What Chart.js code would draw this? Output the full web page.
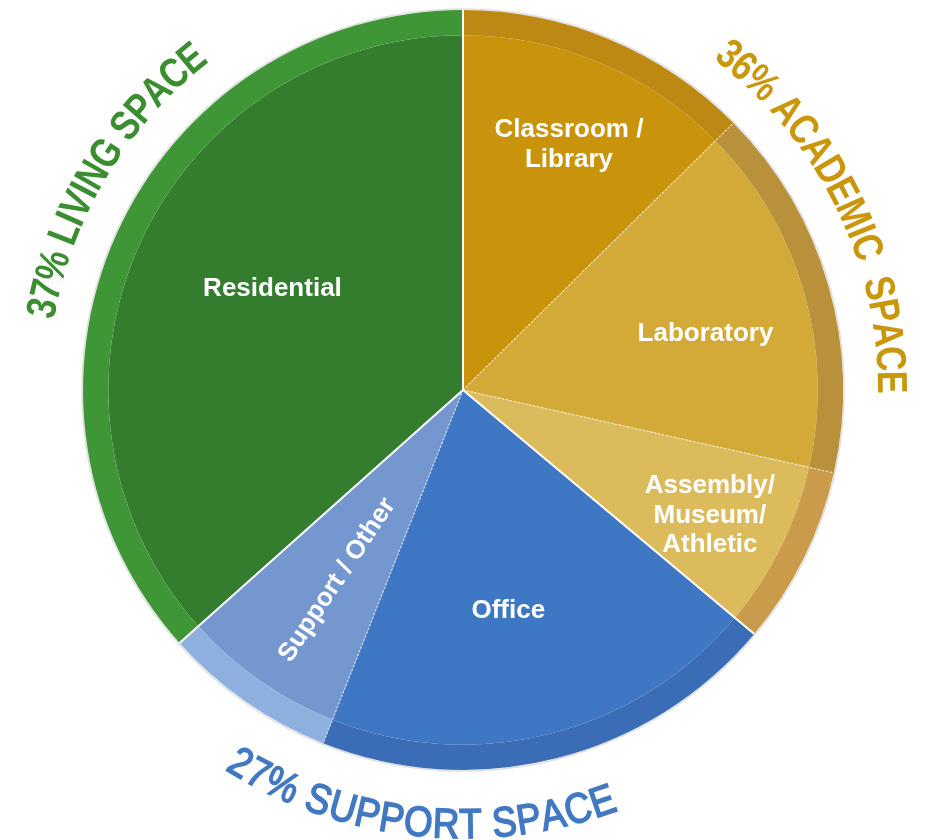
<!DOCTYPE html>
<html>
<head>
<meta charset="utf-8">
<script src="https://cdn.jsdelivr.net/npm/chart.js@4.4.0/dist/chart.umd.min.js"></script>
<style>
  html, body { margin: 0; padding: 0; background: #fff; }
  #wrap { width: 930px; height: 840px; position: relative; }
</style>
</head>
<body>
<div id="wrap"><canvas id="spaceChart"></canvas></div>
<script>
// share of floor space (%), clockwise from 12 o'clock
const categories = ['Classroom / Library', 'Laboratory', 'Assembly/ Museum/ Athletic', 'Office', 'Support / Other', 'Residential'];
const labelLines = [['Classroom /', 'Library'], ['Laboratory'], ['Assembly/', 'Museum/', 'Athletic'], ['Office'], ['Support / Other'], ['Residential']];
const shares = [12.6, 15.9, 7.6, 19.9, 7.4, 36.6];
const groupOf = ['academic', 'academic', 'academic', 'support', 'support', 'living'];

const groupTitles = ['37% LIVING SPACE', '36% ACADEMIC  SPACE', '27% SUPPORT SPACE'];

const innerColors = ['#c9930c', '#d3aa38', '#dcbb5c', '#3e77c3', '#7497cf', '#357d2e'];
const ringColors  = ['#bd8913', '#b8913a', '#c99b4b', '#3a6db6', '#8db0de', '#3f9637'];

// where the white slice names sit: angle nudge (deg) and distance as part of the radius
const nameSpots = [
  { da: 0.7, r: 0.703 },
  { da: 3.0, r: 0.655 },
  { da: 0.7, r: 0.729 },
  { da: 2.6, r: 0.592 },
  { da: -1.4, r: 0.60, rotate: true },
  { da: 3.9, r: 0.568 }
];

// curved titles round the pie: centre angle and span in degrees from 12 o'clock
const titleSpots = [
  { mid: 301, span: 42.5, bottom: false, color: '#3a8e30', weight: 'bold', stroke: 0 },
  { mid: 63.8, span: 53.4, bottom: false, color: '#c9960c', weight: 'bold', stroke: 0 },
  { mid: 185.9, span: 52.5, bottom: true, color: '#4279c2', weight: 'normal', stroke: 1.6 }
];

function curvedText(ctx, text, cx, cy, R, spot) {
  const font = spot.weight + ' 42px "Liberation Sans", Arial, sans-serif';
  ctx.font = font;
  const chars = [...text];
  const widths = chars.map(ch => ctx.measureText(ch).width);
  const natural = widths.reduce((a, b) => a + b, 0);
  const rMid = R + (spot.bottom ? 53 : 50);
  const rBase = spot.bottom ? rMid + 15 : rMid - 15;
  const span = spot.span * Math.PI / 180;
  const k = span * rMid / natural;
  const mid = (spot.mid - 90) * Math.PI / 180;
  let pos = 0;
  chars.forEach((ch, i) => {
    const w = widths[i] * k;
    const off = (pos + w / 2) / rMid - span / 2;
    pos += w;
    const a = spot.bottom ? mid - off : mid + off;
    ctx.save();
    ctx.translate(cx + rBase * Math.cos(a), cy + rBase * Math.sin(a));
    ctx.rotate(spot.bottom ? a - Math.PI / 2 : a + Math.PI / 2);
    ctx.scale(k, 1);
    ctx.font = font;
    ctx.textAlign = 'center';
    ctx.textBaseline = 'alphabetic';
    ctx.fillStyle = spot.color;
    ctx.fillText(ch, 0, 0);
    if (spot.stroke) {
      ctx.strokeStyle = spot.color;
      ctx.lineWidth = spot.stroke;
      ctx.strokeText(ch, 0, 0);
    }
    ctx.restore();
  });
}

const decorPlugin = {
  id: 'decor',
  afterDatasetsDraw(chart) {
    const ctx = chart.ctx;
    const arcs = chart.getDatasetMeta(1).data;
    const rim = chart.getDatasetMeta(0).data[0];
    const cx = rim.x, cy = rim.y, R = rim.outerRadius;

    // faint edge round the disc
    ctx.save();
    ctx.beginPath();
    ctx.arc(cx, cy, R + 1, 0, Math.PI * 2);
    ctx.strokeStyle = 'rgba(0,0,0,0.13)';
    ctx.lineWidth = 1.5;
    ctx.stroke();
    ctx.restore();

    // white cuts between slices, dotted inside a group
    arcs.forEach((arc, i) => {
      const prev = (i + arcs.length - 1) % arcs.length;
      const same = groupOf[prev] === groupOf[i];
      const a = arc.startAngle;
      ctx.save();
      ctx.beginPath();
      ctx.moveTo(cx, cy);
      ctx.lineTo(cx + R * Math.cos(a), cy + R * Math.sin(a));
      ctx.strokeStyle = same ? 'rgba(255,255,255,0.75)' : '#ffffff';
      ctx.lineWidth = same ? 1.2 : 2;
      if (same) ctx.setLineDash([2, 2]);
      ctx.stroke();
      ctx.restore();
    });

    // slice names
    arcs.forEach((arc, i) => {
      const spot = nameSpots[i];
      const a = (arc.startAngle + arc.endAngle) / 2 + spot.da * Math.PI / 180;
      const x = cx + spot.r * R * Math.cos(a);
      const y = cy + spot.r * R * Math.sin(a);
      const lines = labelLines[i];
      ctx.save();
      ctx.translate(x, y);
      if (spot.rotate) ctx.rotate(a - Math.PI);
      ctx.font = 'bold 26px "Liberation Sans", Arial, sans-serif';
      ctx.fillStyle = '#ffffff';
      ctx.textAlign = 'center';
      ctx.textBaseline = 'middle';
      const lh = 29.5;
      lines.forEach((t, j) => {
        ctx.fillText(t, 0, (j - (lines.length - 1) / 2) * lh);
      });
      ctx.restore();
    });

    // group titles
    titleSpots.forEach((spot, g) => curvedText(ctx, groupTitles[g], cx, cy, R, spot));
  }
};

new Chart(document.getElementById('spaceChart'), {
  type: 'pie',
  data: {
    labels: categories,
    datasets: [
      { data: shares, backgroundColor: ringColors, borderWidth: 0, weight: 1 },
      { data: shares, backgroundColor: innerColors, borderWidth: 0, weight: 14 }
    ]
  },
  options: {
    responsive: true,
    maintainAspectRatio: false,
    animation: false,
    events: [],
    layout: { padding: { left: 83, right: 87, top: 10, bottom: 70 } },
    plugins: {
      legend: { display: false },
      tooltip: { enabled: false }
    }
  },
  plugins: [decorPlugin]
});
</script>
</body>
</html>
